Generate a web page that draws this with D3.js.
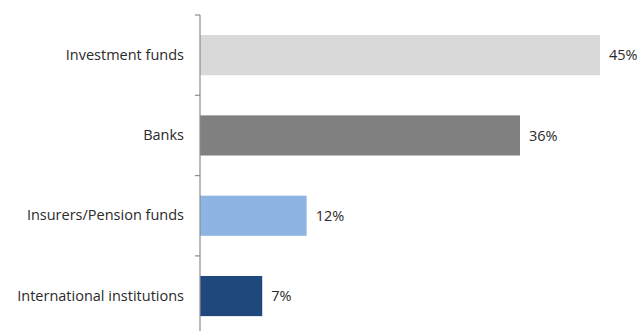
<!DOCTYPE html>
<html lang="en">
<head>
<meta charset="UTF-8">
<title>Holders</title>
<script src="https://d3js.org/d3.v7.min.js"></script>
<style>
    body { margin: 0; background: #fff; }
    svg { display: block; }
    text { font-family: "Open Sans", "DejaVu Sans", sans-serif; fill: #2a2a2a; }
</style>
</head>
<body>
<script>
// data
const categories = ["Investment funds", "Banks", "Insurers/Pension funds", "International institutions"];
const values = [45, 36, 12, 7];
const colors = ["#d9d9d9", "#808080", "#8eb4e3", "#1f497d"];

const w = 639, h = 331;
const marginLeft = 200;
const marginTop = 15;
const step = 80.3;

const svg = d3.select("body").append("svg")
    .attr("width", w)
    .attr("height", h);

const x = d3.scaleLinear()
    .domain([0, 45])
    .range([marginLeft, 600]);

const y = d3.scaleBand()
    .domain(categories)
    .range([marginTop, marginTop + step * categories.length])
    .paddingInner(0.5)
    .paddingOuter(0.25);

// bars
svg.selectAll("rect.bar")
    .data(values)
    .enter()
    .append("rect")
    .attr("class", "bar")
    .attr("x", x(0))
    .attr("y", (d, i) => y(categories[i]))
    .attr("width", d => x(d) - x(0))
    .attr("height", y.bandwidth())
    .attr("fill", (d, i) => colors[i]);

// value labels
svg.selectAll("text.val")
    .data(values)
    .enter()
    .append("text")
    .attr("class", "val")
    .attr("x", d => x(d) + 9)
    .attr("y", (d, i) => y(categories[i]) + y.bandwidth() / 2)
    .attr("dy", "0.35em")
    .style("font-size", "14.5px")
    .text(d => d + "%");

// axis with labels
const yAxis = d3.axisLeft(y).tickSize(0).tickPadding(16);
const g = svg.append("g")
    .attr("transform", `translate(${marginLeft},0)`)
    .call(yAxis);
g.select(".domain").remove();
g.attr("font-family", null);
g.selectAll("text")
    .style("font-size", "14.5px")
    .attr("fill", "#2a2a2a");

// axis line and ticks between categories
const bounds = d3.range(categories.length + 1).map(i => marginTop + i * y.step());
svg.append("line")
    .attr("x1", marginLeft).attr("x2", marginLeft)
    .attr("y1", bounds[0]).attr("y2", bounds[bounds.length - 1])
    .attr("stroke", "#8c8c8c")
    .attr("stroke-width", 1.2);
svg.selectAll("line.tick")
    .data(bounds)
    .enter()
    .append("line")
    .attr("class", "tick")
    .attr("x1", marginLeft - 5).attr("x2", marginLeft)
    .attr("y1", d => d).attr("y2", d => d)
    .attr("stroke", "#8c8c8c")
    .attr("stroke-width", 1.2);
</script>
</body>
</html>
